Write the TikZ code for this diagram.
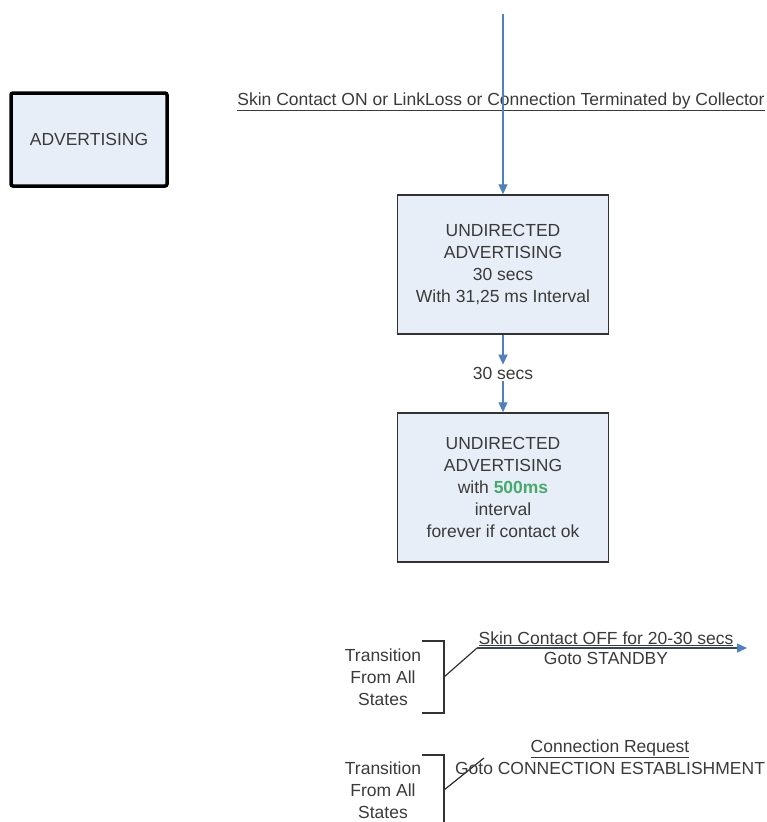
\documentclass[tikz,border=0pt]{standalone}
\usepackage{fontspec}
\setmainfont{Liberation Sans}
\usetikzlibrary{arrows.meta}
\definecolor{arrowblue}{RGB}{79,129,189}
\definecolor{boxfill}{RGB}{232,238,248}
\definecolor{txt}{RGB}{58,58,58}
\definecolor{okgreen}{RGB}{70,170,110}
\definecolor{edge}{RGB}{50,50,50}
\begin{document}
\begin{tikzpicture}[x=1pt,y=-1pt,
  every node/.style={text=txt,font=\fontsize{17.5}{22}\selectfont,inner sep=0pt},
  statebox/.style={draw=edge,line width=1.5pt,fill=boxfill,align=center,minimum width=211pt},
  bigbox/.style={draw=black,line width=3.5pt,fill=boxfill,rounded corners=2pt,minimum width=156pt,minimum height=93pt},
  arr/.style={draw=arrowblue,line width=1.3pt,-{Triangle[width=9pt,length=10pt]}},
  garr/.style={draw=edge!75!arrowblue,line width=1.3pt,-{Triangle[width=9pt,length=10pt,color=arrowblue]}},
  brk/.style={draw=edge,line width=1.5pt},
  lbl/.style={align=center}]
\useasboundingbox (0,0) rectangle (766,822);

\node[bigbox] (adv) at (89,139.5) {ADVERTISING};

\node[statebox,minimum height=139pt] (ua1) at (503,264.5) {UNDIRECTED\\ADVERTISING\\30 secs\\With 31,25 ms Interval};
\node[statebox,minimum height=149pt] (ua2) at (503,487.5) {UNDIRECTED\\ADVERTISING\\with \textcolor{okgreen}{\textbf{500ms}}\\interval\\forever if contact ok};

\coordinate (start) at (503,14);
\node[lbl] (toplbl) at (501,102) {\underline{Skin Contact ON or LinkLoss or Connection Terminated by Collector}};
\draw[arr] (start) -- (ua1.north);

\node[lbl,fill=white,inner sep=2pt] (t30) at (503,373) {30 secs};
\draw[arr] (ua1.south) -- (t30.north);
\draw[arr] (t30.south) -- (ua2.north);

% first transition
\node[lbl] (tr1) at (383,677) {Transition\\From All\\States};
\coordinate (b1a) at (422,641);
\coordinate (b1b) at (444,641);
\coordinate (b1c) at (444,713);
\coordinate (b1d) at (422,713);
\draw[brk] (b1a) -- (b1b) -- (b1c) -- (b1d);
\coordinate (d1s) at (444,677);
\coordinate (d1e) at (477,648);
\coordinate (e1) at (747,648);
\draw[brk,line width=1.2pt] (d1s) -- (d1e);
\draw[garr] (d1e) -- (e1);
\node[lbl,anchor=base] (l1a) at (606,644) {\underline{Skin Contact OFF for 20-30 secs}};
\node[lbl,anchor=base] (l1b) at (606,664) {Goto STANDBY};

% second transition
\node[lbl] (tr2) at (383,790) {Transition\\From All\\States};
\coordinate (b2a) at (422,755);
\coordinate (b2b) at (444,755);
\coordinate (b2c) at (444,822);
\draw[brk] (b2a) -- (b2b) -- (b2c);
\coordinate (d2s) at (444,790);
\coordinate (d2e) at (484,758);
\draw[brk,line width=1.2pt] (d2s) -- (d2e);
\node[lbl,anchor=base] (l2a) at (610,752) {\underline{Connection Request}};
\node[lbl,anchor=base] (l2b) at (610,774) {Goto CONNECTION ESTABLISHMENT};
\end{tikzpicture}
\end{document}
